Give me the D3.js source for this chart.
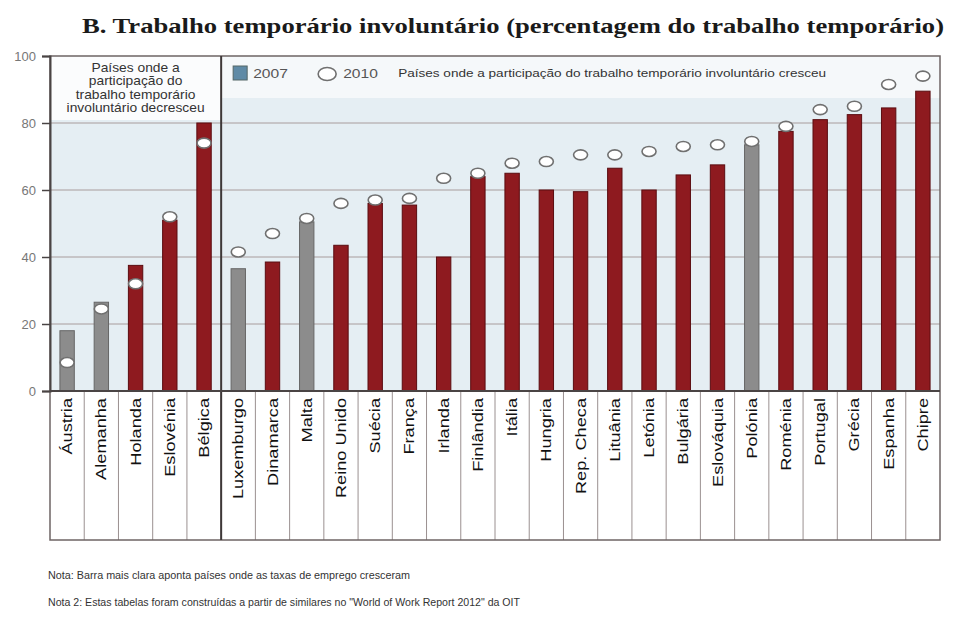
<!DOCTYPE html>
<html>
<head>
<meta charset="utf-8">
<script src="https://cdn.jsdelivr.net/npm/d3@7"></script>
<style>
  body { margin: 0; background: #fff; }
  text { font-family: "Liberation Sans", Arial, sans-serif; }
</style>
</head>
<body>
<script>
// Countries, in drawing order
var countries = ["Áustria", "Alemanha", "Holanda", "Eslovénia", "Bélgica",
    "Luxemburgo", "Dinamarca", "Malta", "Reino Unido", "Suécia", "França", "Irlanda",
    "Finlândia", "Itália", "Hungria", "Rep. Checa", "Lituânia", "Letónia", "Bulgária",
    "Eslováquia", "Polónia", "Roménia", "Portugal", "Grécia", "Espanha", "Chipre"];

// 2007 values (bars)
var values2007 = [18, 26.5, 37.5, 51, 80,
    36.5, 38.5, 50.5, 43.5, 56, 55.5, 40,
    64, 65, 60, 59.5, 66.5, 60, 64.5,
    67.5, 73.5, 77.5, 81, 82.5, 84.5, 89.5];

// 2010 values (circles)
var values2010 = [8.5, 24.5, 32, 52, 74,
    41.5, 47, 51.5, 56, 57, 57.5, 63.5,
    65, 68, 68.5, 70.5, 70.5, 71.5, 73,
    73.5, 74.5, 79, 84, 85, 91.5, 94];

// countries where employment rates grew (lighter bar)
var lighter = ["Áustria", "Alemanha", "Luxemburgo", "Malta", "Polónia"];

var yTicks = [0, 20, 40, 60, 80, 100];
var nDecreased = 5;

var W = 962, H = 630;
var mLeft = 50, mRight = 940, mTop = 56, mBottom = 391, tableBottom = 540;

var svg = d3.select("body").append("svg")
    .attr("width", W)
    .attr("height", H);

var x = d3.scaleBand().domain(countries).range([mLeft, mRight]).paddingInner(0.58).paddingOuter(0.29);
var cell = d3.scaleBand().domain(countries).range([mLeft, mRight]).padding(0);
var y = d3.scaleLinear().domain([0, 100]).range([mBottom, mTop]);

var data = countries.map(function(c, i) {
    return {name: c, v07: values2007[i], v10: values2010[i]};
});

var divX = cell(countries[nDecreased]);

// title
svg.append("text")
    .attr("x", 82)
    .attr("y", 33)
    .attr("textLength", 862)
    .attr("lengthAdjust", "spacingAndGlyphs")
    .style("font-family", "'Liberation Serif', 'DejaVu Serif', serif")
    .style("font-weight", "bold")
    .style("font-size", "22px")
    .attr("fill", "#1a1a1a")
    .text("B. Trabalho temporário involuntário (percentagem do trabalho temporário)");

// plot background
svg.append("rect")
    .attr("x", mLeft).attr("y", mTop)
    .attr("width", mRight - mLeft).attr("height", mBottom - mTop)
    .attr("fill", "#e5eef3");

// lighter bands behind the headers
svg.append("rect")
    .attr("x", mLeft).attr("y", mTop)
    .attr("width", divX - mLeft).attr("height", 64)
    .attr("fill", "#fbfcfd");
svg.append("rect")
    .attr("x", divX).attr("y", mTop)
    .attr("width", mRight - divX).attr("height", 42)
    .attr("fill", "#f5f8fa");

// gridlines
svg.append("g")
    .selectAll("line")
    .data(yTicks.filter(function(t) { return t > 0 && t < 100; }))
    .enter().append("line")
    .attr("x1", mLeft).attr("x2", mRight)
    .attr("y1", function(d) { return y(d); })
    .attr("y2", function(d) { return y(d); })
    .attr("stroke", "#a89c9c")
    .attr("stroke-width", 1);

// bars 2007
svg.append("g")
    .selectAll("rect")
    .data(data)
    .enter().append("rect")
    .attr("x", function(d) { return x(d.name); })
    .attr("width", x.bandwidth())
    .attr("y", function(d) { return y(d.v07); })
    .attr("height", function(d) { return y(0) - y(d.v07); })
    .attr("fill", function(d) { return lighter.indexOf(d.name) >= 0 ? "#8c8c8c" : "#8e1a1f"; })
    .attr("stroke", function(d) { return lighter.indexOf(d.name) >= 0 ? "#666" : "#5a0c10"; })
    .attr("stroke-width", 1);

// circles 2010
svg.append("g")
    .selectAll("ellipse")
    .data(data)
    .enter().append("ellipse")
    .attr("cx", function(d) { return x(d.name) + x.bandwidth() / 2; })
    .attr("cy", function(d) { return y(d.v10); })
    .attr("rx", 7)
    .attr("ry", 5)
    .attr("fill", "#ffffff")
    .attr("stroke", "#707070")
    .attr("stroke-width", 1.6);

// label table
var table = svg.append("g");
table.selectAll("line.sep")
    .data(countries.slice(1))
    .enter().append("line")
    .attr("class", "sep")
    .attr("x1", function(d) { return cell(d); })
    .attr("x2", function(d) { return cell(d); })
    .attr("y1", mBottom).attr("y2", tableBottom)
    .attr("stroke", "#9a9090")
    .attr("stroke-width", 1);

table.selectAll("text")
    .data(countries)
    .enter().append("text")
    .attr("transform", function(d) {
        return "translate(" + (cell(d) + cell.bandwidth() / 2 + 5) + "," + (mBottom + 7) + ") rotate(-90) scale(1.3,1)";
    })
    .attr("text-anchor", "end")
    .style("font-size", "14px")
    .attr("fill", "#111")
    .text(function(d) { return d; });

// frame
svg.append("rect")
    .attr("x", mLeft).attr("y", mTop)
    .attr("width", mRight - mLeft).attr("height", tableBottom - mTop)
    .attr("fill", "none")
    .attr("stroke", "#6e6464")
    .attr("stroke-width", 1.5);

svg.append("line")
    .attr("x1", divX).attr("x2", divX)
    .attr("y1", mTop).attr("y2", tableBottom)
    .attr("stroke", "#3e3838")
    .attr("stroke-width", 2);

// y axis
var yAxis = svg.append("g")
    .attr("transform", "translate(" + mLeft + ",0)")
    .call(d3.axisLeft(y).tickValues(yTicks).tickSize(8).tickPadding(6));
yAxis.select(".domain").attr("stroke", "#4a4444").attr("stroke-width", 2);
yAxis.selectAll(".tick line").attr("stroke", "#4a4444").attr("stroke-width", 1.5);
yAxis.selectAll(".tick text")
    .style("font-family", "'Liberation Sans', Arial, sans-serif")
    .style("font-size", "13px")
    .attr("fill", "#777");

svg.append("line")
    .attr("x1", mLeft).attr("x2", mRight)
    .attr("y1", mBottom).attr("y2", mBottom)
    .attr("stroke", "#4a4444").attr("stroke-width", 2);

// left header box
var leftLines = ["Países onde a", "participação do", "trabalho temporário", "involuntário decresceu"];
svg.append("g")
    .selectAll("text")
    .data(leftLines)
    .enter().append("text")
    .attr("transform", function(d, i) {
        return "translate(" + ((mLeft + divX) / 2) + "," + (72 + i * 13.3) + ") scale(1.15,1)";
    })
    .attr("text-anchor", "middle")
    .style("font-size", "12px")
    .attr("fill", "#333")
    .text(function(d) { return d; });

// legend
var lg = svg.append("g");
lg.append("rect")
    .attr("x", divX + 12).attr("y", 66)
    .attr("width", 14).attr("height", 14)
    .attr("fill", "#5f8aa6")
    .attr("stroke", "#566");
lg.append("text")
    .attr("transform", "translate(" + (divX + 32) + ",78) scale(1.3,1)")
    .style("font-size", "12px").attr("fill", "#555")
    .text("2007");
lg.append("ellipse")
    .attr("cx", divX + 106).attr("cy", 74)
    .attr("rx", 9).attr("ry", 6.5)
    .attr("fill", "#fff").attr("stroke", "#707070").attr("stroke-width", 1.6);
lg.append("text")
    .attr("transform", "translate(" + (divX + 122) + ",78) scale(1.3,1)")
    .style("font-size", "12px").attr("fill", "#555")
    .text("2010");
lg.append("text")
    .attr("x", divX + 177).attr("y", 77)
    .attr("textLength", 428)
    .attr("lengthAdjust", "spacingAndGlyphs")
    .style("font-size", "10.5px").attr("fill", "#333")
    .text("Países onde a participação do trabalho temporário involuntário cresceu");

// notes
svg.append("text")
    .attr("x", 48).attr("y", 579)
    .attr("textLength", 362)
    .attr("lengthAdjust", "spacingAndGlyphs")
    .style("font-size", "10.5px").attr("fill", "#333")
    .text("Nota: Barra mais clara aponta países onde as taxas de emprego cresceram");
svg.append("text")
    .attr("x", 48).attr("y", 606)
    .attr("textLength", 472)
    .attr("lengthAdjust", "spacingAndGlyphs")
    .style("font-size", "10.5px").attr("fill", "#333")
    .text("Nota 2: Estas tabelas foram construídas a partir de similares no \"World of Work Report 2012\" da OIT");
</script>
</body>
</html>
